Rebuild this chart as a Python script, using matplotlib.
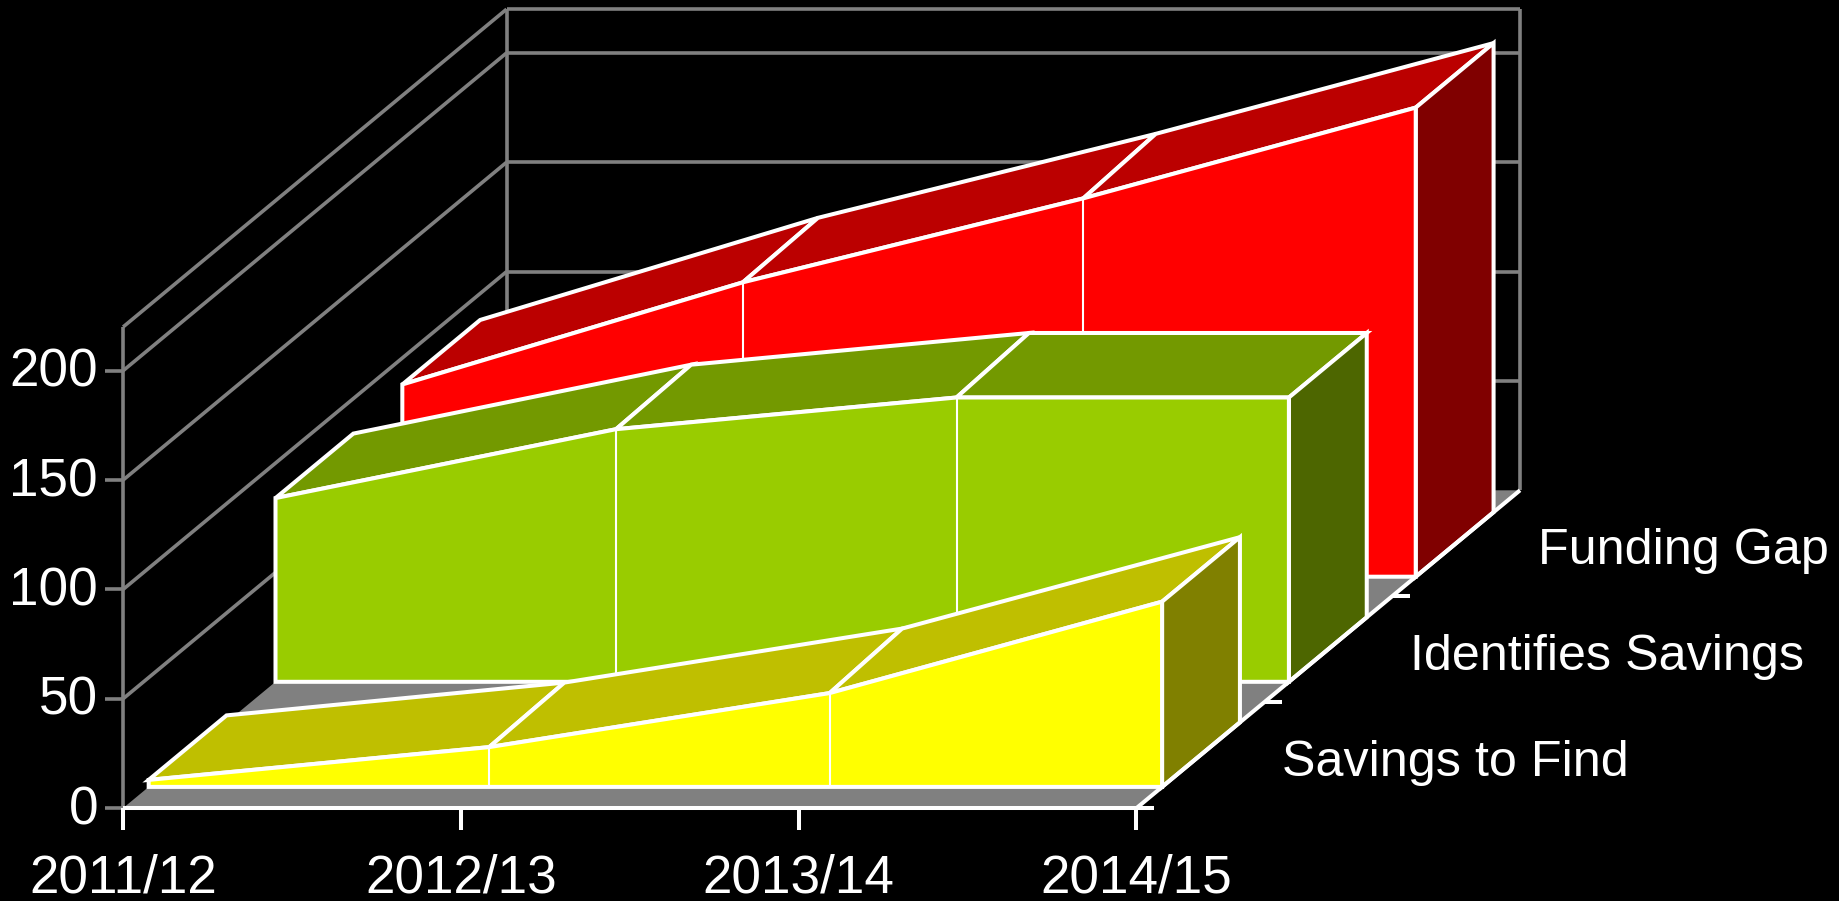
"""
3D style area chart: funding gap and savings, 2011/12 to 2014/15
"""

import numpy as np
import matplotlib
matplotlib.use('Agg')
import matplotlib.pyplot as plt
from matplotlib.patches import Polygon

plt.rcParams.update({
    'font.family': ['Liberation Sans', 'DejaVu Sans'],
    'font.size': 38.2,
})

# ─── Data ────────────────────────────────────────────────────────────────────
categories = ['2011/12', '2012/13', '2013/14', '2014/15']
series_names = ['Savings to Find', 'Identifies Savings', 'Funding Gap']
savings_to_find = [3.2, 18.2, 42.9, 84.7]
identified_savings = [84.0, 115.5, 130.0, 130.0]
funding_gap = [87.9, 134.6, 173.0, 214.5]
y_ticks = [0, 50, 100, 150, 200]
y_top = 220

# ─── Projection (pixels of the 1839x901 figure) ──────────────────────────────
W, H = 1839, 901
ORIGIN = np.array([123.1, 808.1])
CAT_STEP = np.array([337.8, 0.0])
DEPTH = np.array([383.5, -317.8])
UNIT = 2.187
# the front vertices sit a little off the ticks in the middle of the chart
CAT_POS = [0, 1.008, 2.016, 3]
SLOT_START, SLOT_STEP, SLOT_WIDTH = 0.0667, 0.3307, 0.203
WHITE, GRID = '#FFFFFF', '#808080'
LW, THIN, GRID_LW = 2.9, 1.5, 2.6


def proj(cat, depth, value=0.0):
    p = ORIGIN + cat * CAT_STEP + depth * DEPTH
    return p[0], p[1] - value * UNIT


def line(ax, a, b, color=WHITE, lw=LW):
    ax.plot([a[0], b[0]], [a[1], b[1]], color=color, lw=lw,
            solid_capstyle='butt', zorder=2)


def face(ax, pts, color):
    ax.add_patch(Polygon(pts, closed=True, facecolor=color, edgecolor=WHITE,
                         lw=LW, joinstyle='miter', zorder=2))


def draw_series(ax, slot, values, colors):
    front_c, top_c, side_c = colors
    d0 = SLOT_START + slot * SLOT_STEP
    d1 = d0 + SLOT_WIDTH
    n = len(values)

    for i in range(n - 1):
        face(ax, [proj(CAT_POS[i], d0, values[i]),
                  proj(CAT_POS[i + 1], d0, values[i + 1]),
                  proj(i + 1, d1, values[i + 1]),
                  proj(i, d1, values[i])], top_c)

    end = CAT_POS[-1]
    face(ax, [proj(end, d0, values[-1]), proj(end, d1, values[-1]),
              proj(end, d1), proj(end, d0)], side_c)

    pts = [proj(c, d0, v) for c, v in zip(CAT_POS, values)]
    pts += [proj(end, d0), proj(CAT_POS[0], d0)]
    face(ax, pts, front_c)

    for i in range(1, n - 1):
        line(ax, proj(CAT_POS[i], d0, values[i]), proj(CAT_POS[i], d0),
             lw=THIN)


def main():
    fig = plt.figure(figsize=(W / 100, H / 100), dpi=100, facecolor='black')
    ax = fig.add_axes([0, 0, 1, 1])
    ax.set_xlim(0, W)
    ax.set_ylim(H, 0)
    ax.axis('off')

    n_cat = len(categories) - 1

    # walls
    for v in y_ticks[1:] + [y_top]:
        line(ax, proj(0, 0, v), proj(0, 1, v), GRID, GRID_LW)
        line(ax, proj(0, 1, v), proj(n_cat, 1, v), GRID, GRID_LW)
    line(ax, proj(0, 0), proj(0, 0, y_top), GRID, GRID_LW)
    line(ax, proj(0, 1), proj(0, 1, y_top), GRID, GRID_LW)
    line(ax, proj(n_cat, 1), proj(n_cat, 1, y_top), GRID, GRID_LW)

    # floor
    ax.add_patch(Polygon([proj(0, 0), proj(n_cat, 0), proj(n_cat, 1), proj(0, 1)],
                         closed=True, facecolor=GRID, edgecolor='none', zorder=2))

    # back to front
    draw_series(ax, 2, funding_gap, ('#FF0000', '#BB0000', '#800000'))
    draw_series(ax, 1, identified_savings, ('#99CC00', '#739900', '#4D6600'))
    draw_series(ax, 0, savings_to_find, ('#FFFF00', '#BFBF00', '#808000'))

    # floor edges
    line(ax, proj(0, 0), proj(n_cat, 0))
    line(ax, proj(n_cat, 0), proj(n_cat, 1))

    # y axis ticks and labels
    for v in y_ticks:
        x, y = proj(0, 0, v)
        line(ax, (x - 18, y), (x, y), GRID, GRID_LW)
        ax.text(x - 25, y + 2, str(v), color=WHITE, ha='right', va='center')

    # category ticks and labels
    for i, label in enumerate(categories):
        x, y = proj(i, 0)
        line(ax, (x, y), (x, y + 22))
        ax.text(x, y + 70, label, color=WHITE, ha='center', va='center')

    # depth ticks and series labels
    for i, name in enumerate(series_names):
        x, y = proj(n_cat, i / 3)
        line(ax, (x, y), (x + 18, y))
        x, y = proj(n_cat, (i + 0.5) / 3)
        ax.text(x + 82, y + 8, name, color=WHITE, ha='left', va='center',
                fontsize=36.2)

    fig.savefig('out.png', dpi=100, facecolor='black')
    plt.close(fig)


if __name__ == '__main__':
    main()
